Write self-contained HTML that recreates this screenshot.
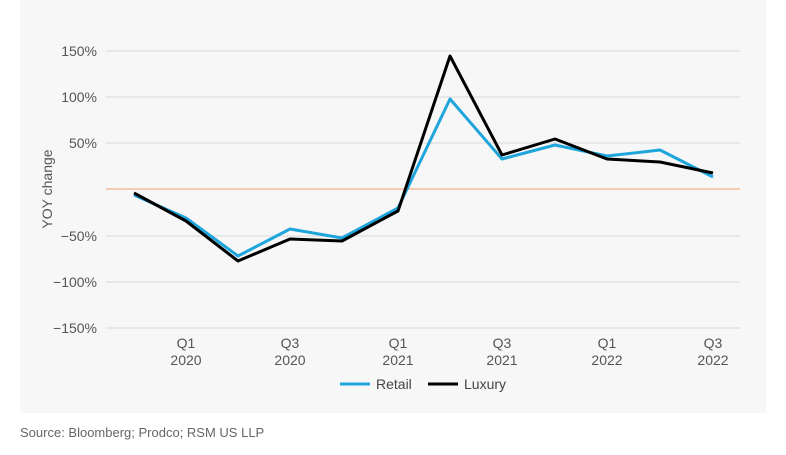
<!DOCTYPE html>
<html><head><style>
body{margin:0;width:786px;height:455px;background:#fff;font-family:"Liberation Sans",sans-serif;}
</style></head><body>
<svg width="786" height="455" style="position:absolute;left:0;top:0">
<rect x="20" y="0" width="746" height="413" fill="#f7f7f7"/>
<g stroke="#d9d9d9" stroke-width="1">
<line x1="106" x2="740" y1="51" y2="51"/>
<line x1="106" x2="740" y1="97" y2="97"/>
<line x1="106" x2="740" y1="143" y2="143"/>
<line x1="106" x2="740" y1="236" y2="236"/>
<line x1="106" x2="740" y1="282" y2="282"/>
<line x1="106" x2="740" y1="328" y2="328"/>
</g>
<line x1="106" x2="740" y1="189" y2="189" stroke="#f4a06a" stroke-width="1"/>
<g font-size="14" fill="#555" text-anchor="end">
<text x="97" y="56">150%</text>
<text x="97" y="102">100%</text>
<text x="97" y="148">50%</text>
<text x="97" y="241">−50%</text>
<text x="97" y="287">−100%</text>
<text x="97" y="333">−150%</text>
</g>
<text transform="translate(52,189) rotate(-90)" font-size="14" fill="#555" text-anchor="middle">YOY change</text>
<g font-size="14" fill="#555" text-anchor="middle">
<text x="186" y="348">Q1</text><text x="186" y="365">2020</text>
<text x="290" y="348">Q3</text><text x="290" y="365">2020</text>
<text x="398" y="348">Q1</text><text x="398" y="365">2021</text>
<text x="502" y="348">Q3</text><text x="502" y="365">2021</text>
<text x="607" y="348">Q1</text><text x="607" y="365">2022</text>
<text x="713" y="348">Q3</text><text x="713" y="365">2022</text>
</g>
<polyline fill="none" stroke="#1ea5dc" stroke-width="3" stroke-linejoin="round" points="134,195 186,218 238,256 290,229 342,238 398,208 450,99 502,159 555,145 607,156 660,150 713,177"/>
<polyline fill="none" stroke="#000" stroke-width="3" stroke-linejoin="round" points="134,193 186,221 238,261 290,239 342,241 398,211 450,56 502,155 555,139 607,159 660,162 713,173"/>
<line x1="340" x2="370" y1="384" y2="384" stroke="#1ea5dc" stroke-width="3"/>
<text x="376" y="389" font-size="14" fill="#444">Retail</text>
<line x1="428" x2="458" y1="384" y2="384" stroke="#000" stroke-width="3"/>
<text x="464" y="389" font-size="14" fill="#444">Luxury</text>
<text x="20" y="437" font-size="13" fill="#666">Source: Bloomberg; Prodco; RSM US LLP</text>
</svg>
</body></html>
